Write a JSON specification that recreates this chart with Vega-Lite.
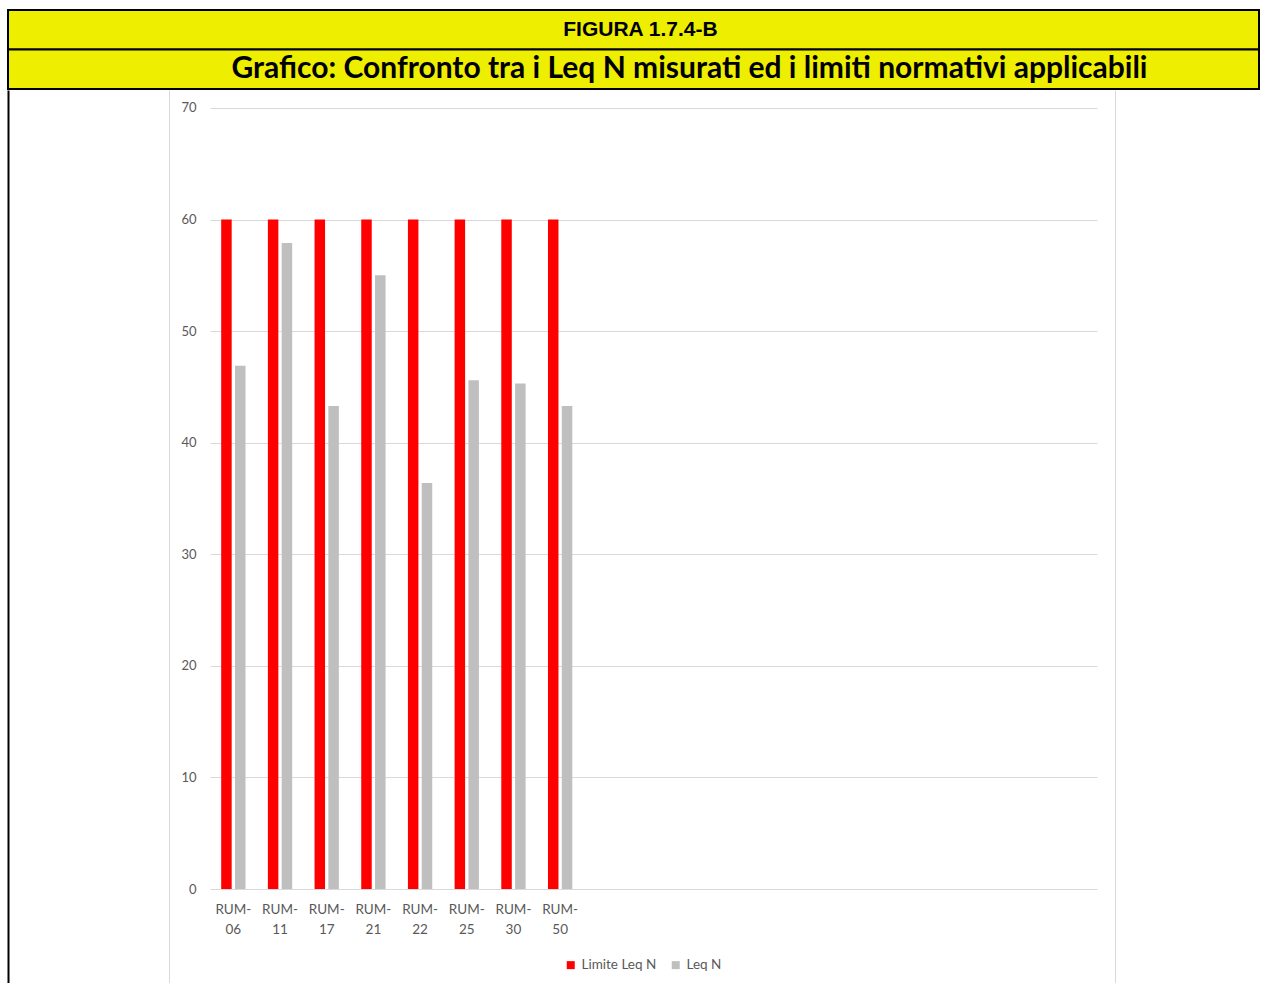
{
  "$schema": "https://vega.github.io/schema/vega-lite/v6.json",
  "padding": {"left": 7, "top": 9, "right": 0, "bottom": 0},
  "autosize": {"type": "pad"},
  "background": "white",
  "spacing": 0,
  "config": {"view": {"stroke": null}, "font": "Lato"},
  "vconcat": [
    {
      "width": 1049,
      "height": 79,
      "data": {"values": [
        {"colonna": "A", "riga": 1, "testo": "FIGURA 1.7.4-B"},
        {"colonna": "A", "riga": 2, "testo": "Grafico: Confronto tra i Leq N misurati ed i limiti normativi applicabili"}
      ]},
      "encoding": {
        "x": {"field": "colonna", "type": "nominal", "axis": null, "scale": {"paddingInner": 0, "paddingOuter": 0, "range": [-202, 1049]}},
        "y": {"field": "riga", "type": "ordinal", "axis": null, "scale": {"paddingInner": 0, "paddingOuter": 0}}
      },
      "layer": [
        {"mark": {"type": "rect", "fill": "#EEEE00", "stroke": "#000000", "strokeWidth": 2}},
        {
          "transform": [{"filter": "datum.riga == 1"}],
          "mark": {"type": "text", "font": "Liberation Sans", "fontWeight": "bold", "fontSize": 21, "color": "#000000", "dx": 7},
          "encoding": {"text": {"field": "testo"}}
        },
        {
          "transform": [{"filter": "datum.riga == 2"}],
          "mark": {"type": "text", "font": "Lato", "fontWeight": "bold", "fontSize": 30, "color": "#000000", "dx": 56},
          "encoding": {"text": {"field": "testo"}}
        }
      ]
    },
    {
      "width": 887,
      "height": 893,
      "data": {"values": [
        {"stazione": "RUM-06", "serie": "Limite Leq N", "valore": 60},
        {"stazione": "RUM-06", "serie": "Leq N", "valore": 46.9},
        {"stazione": "RUM-11", "serie": "Limite Leq N", "valore": 60},
        {"stazione": "RUM-11", "serie": "Leq N", "valore": 57.9},
        {"stazione": "RUM-17", "serie": "Limite Leq N", "valore": 60},
        {"stazione": "RUM-17", "serie": "Leq N", "valore": 43.3},
        {"stazione": "RUM-21", "serie": "Limite Leq N", "valore": 60},
        {"stazione": "RUM-21", "serie": "Leq N", "valore": 55.0},
        {"stazione": "RUM-22", "serie": "Limite Leq N", "valore": 60},
        {"stazione": "RUM-22", "serie": "Leq N", "valore": 36.4},
        {"stazione": "RUM-25", "serie": "Limite Leq N", "valore": 60},
        {"stazione": "RUM-25", "serie": "Leq N", "valore": 45.6},
        {"stazione": "RUM-30", "serie": "Limite Leq N", "valore": 60},
        {"stazione": "RUM-30", "serie": "Leq N", "valore": 45.3},
        {"stazione": "RUM-50", "serie": "Limite Leq N", "valore": 60},
        {"stazione": "RUM-50", "serie": "Leq N", "valore": 43.3}
      ]},
      "encoding": {
        "x": {
          "field": "stazione", "type": "nominal",
          "scale": {
            "domain": ["RUM-06", "RUM-11", "RUM-17", "RUM-21", "RUM-22", "RUM-25", "RUM-30", "RUM-50", "v01", "v02", "v03", "v04", "v05", "v06", "v07", "v08", "v09", "v10", "v11"],
            "paddingInner": 0, "paddingOuter": 0
          },
          "axis": {
            "title": null, "orient": "bottom", "offset": -94, "domain": false, "ticks": false,
            "labelAngle": 0, "labelPadding": 13, "labelFontSize": 13.5, "labelColor": "#595959",
            "labelLineHeight": 20, "labelFont": "Lato",
            "labelExpr": "indexof(datum.label, 'RUM') == 0 ? [slice(datum.label, 0, 4), slice(datum.label, 4)] : ''"
          }
        },
        "xOffset": {
          "field": "serie", "type": "nominal",
          "scale": {"domain": ["Limite Leq N", "Leq N"], "paddingInner": 0.24, "paddingOuter": 0.81}
        }
      },
      "resolve": {"scale": {"y": "independent"}, "axis": {"y": "independent"}},
      "layer": [
        {
          "mark": {"type": "bar"},
          "encoding": {
            "y": {
              "field": "valore", "type": "quantitative",
              "scale": {"domain": [-8.42, 71.61], "nice": false, "zero": false},
              "axis": {
                "title": null, "orient": "left", "values": [0, 10, 20, 30, 40, 50, 60, 70],
                "domain": false, "ticks": false, "grid": true, "gridColor": "#D9D9D9", "gridWidth": 1,
                "labelPadding": 14, "labelFontSize": 13, "labelColor": "#595959", "labelFont": "Lato"
              }
            },
            "y2": {"datum": 0},
            "color": {
              "field": "serie", "type": "nominal",
              "scale": {"domain": ["Limite Leq N", "Leq N"], "range": ["#FF0000", "#BFBFBF"]},
              "legend": {
                "title": null, "orient": "none", "direction": "horizontal", "legendX": 354, "legendY": 948,
                "symbolType": "square", "symbolSize": 64, "symbolStrokeWidth": 0,
                "labelFontSize": 13.5, "labelColor": "#595959", "labelFont": "Lato", "labelOffset": 4, "columnPadding": 12
              }
            }
          }
        },
        {
          "mark": {"type": "bar", "opacity": 0},
          "encoding": {
            "y": {
              "field": "valore", "type": "quantitative",
              "scale": {"domain": [-8.42, 71.61], "nice": false, "zero": false},
              "axis": {
                "title": null, "orient": "left", "offset": 202, "domain": true, "domainColor": "#000000", "domainWidth": 2,
                "labels": false, "ticks": false, "grid": false
              }
            }
          }
        },
        {
          "mark": {"type": "bar", "opacity": 0},
          "encoding": {
            "y": {
              "field": "valore", "type": "quantitative",
              "scale": {"domain": [-8.42, 71.61], "nice": false, "zero": false},
              "axis": {
                "title": null, "orient": "right", "offset": 18, "domain": true, "domainColor": "#D9D9D9", "domainWidth": 1,
                "labels": false, "ticks": false, "grid": false
              }
            }
          }
        },
        {
          "mark": {"type": "bar", "opacity": 0},
          "encoding": {
            "y": {
              "field": "valore", "type": "quantitative",
              "scale": {"domain": [-8.42, 71.61], "nice": false, "zero": false},
              "axis": {
                "title": null, "orient": "left", "offset": 41, "domain": true, "domainColor": "#D9D9D9", "domainWidth": 1,
                "labels": false, "ticks": false, "grid": false
              }
            }
          }
        }
      ]
    }
  ]
}
